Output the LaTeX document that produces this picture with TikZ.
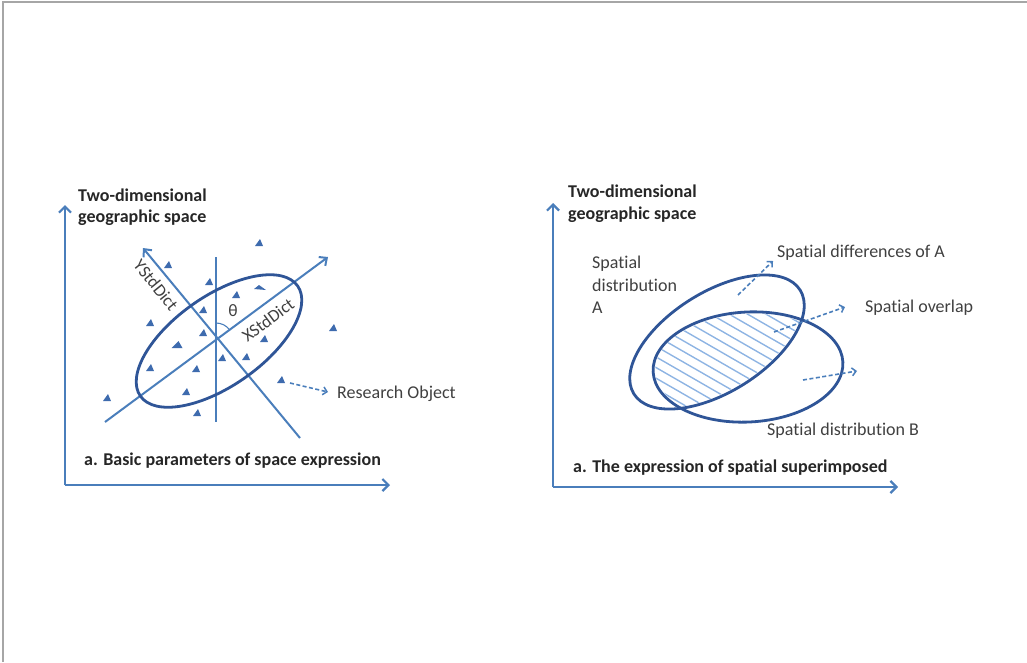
\documentclass[tikz,border=0pt]{standalone}
\usepackage{fontspec}
\setmainfont{Carlito}[Ligatures=NoCommon]
\usetikzlibrary{arrows.meta,calc}
\definecolor{axisblue}{HTML}{4A7EBB}
\definecolor{ellblue}{HTML}{2F5597}
\definecolor{hatchblue}{HTML}{8EB4E3}
\definecolor{tricol}{HTML}{3E6BAE}
\definecolor{txt}{HTML}{404040}
\definecolor{btxt}{HTML}{262626}
\definecolor{framegray}{HTML}{A6A6A6}
\begin{document}
\begin{tikzpicture}[x=1pt,y=-1pt,
  axis/.style={draw=axisblue, line width=2.4pt, -{Straight Barb[length=6pt,width=12pt,line width=2.2pt]}},
  ln/.style={draw=axisblue, line width=2pt},
  lnarrow/.style={ln, -{Straight Barb[length=6pt,width=11pt,line width=2pt]}},
  ell/.style={draw=ellblue, line width=2.8pt},
  dasharrow/.style={draw=axisblue, line width=1.6pt, dash pattern=on 4pt off 2.5pt, -{Straight Barb[length=4pt,width=8pt,line width=1.5pt]}},
  hatchline/.style={draw=hatchblue, line width=1.4pt},
  tri/.style={fill=tricol},
  lab/.style={font=\fontsize{18}{21}\selectfont, text=txt, inner sep=0pt, anchor=base west},
  blab/.style={font=\fontsize{18}{21}\selectfont\bfseries, text=btxt, inner sep=0pt, anchor=base west},
  rlab/.style={font=\fontsize{17.5}{21}\selectfont, text=txt, inner sep=0pt}
]
\useasboundingbox (0,0) rectangle (1027,662);
% frame
\coordinate (F1) at (3,662); \coordinate (F2) at (3,2); \coordinate (F3) at (1027,2);
\draw[framegray, line width=1.6pt] (F1) -- (F2) -- (F3);

% ===== left panel =====
\coordinate (LO) at (65,485); \coordinate (LY) at (65,205); \coordinate (LX) at (390,485);
\draw[axis] (LO) -- (LY);
\draw[axis] (LO) -- (LX);
\node[blab] (lt1) at (78,201) {Two-dimensional};
\node[blab] (lt2) at (78,222) {geographic space};
\node[blab] (lcap) at (84,465) {a. Basic parameters of space expression};

\coordinate (V1) at (216,257); \coordinate (V2) at (216,422);
\draw[ln] (V1) -- (V2);
\coordinate (N1) at (105,422); \coordinate (N2) at (328,257);
\draw[lnarrow] (N1) -- (N2);
\coordinate (W1) at (300,438); \coordinate (W2) at (143,248);
\draw[lnarrow] (W1) -- (W2);
\draw[ell, shift={(219,341)}, rotate=35] (0,0) ellipse [x radius=96, y radius=45];
\coordinate (TH) at (216,323);
\draw[draw=axisblue, line width=1.1pt] (TH) arc[start angle=-90, end angle=-38, radius=17];
\node[rlab] (theta) at (233,311) {θ};
\node[rlab, rotate=36.5] (xstd) at (268,320) {XStdDict};
\node[rlab, rotate=-51] (ystd) at (156,285) {YStdDict};

\foreach \px/\py in {259/243,168/265,209/282,236/295,203/310,150/323,203/333,
  333/328,264/339,222/358,246/357,150/368,196/369,186/392,107/398,281/380,197/413}{
  \fill[tri] (\px,\py) ++(-4,3) -- ++(8,0) -- ++(-3,-7) -- cycle;
}
\fill[tri] (260,287) ++(-6,2) -- ++(12,1) -- ++(-7,-5) -- cycle;
\fill[tri] (177,345) ++(-5.5,3) -- ++(11,0) -- ++(-4,-7) -- cycle;

\coordinate (R1) at (290,383); \coordinate (R2) at (328,392);
\draw[dasharrow] (R1) -- (R2);
\node[lab] (resobj) at (337,398) {Research Object};

% ===== right panel =====
\coordinate (RO) at (553,487); \coordinate (RY) at (553,203); \coordinate (RX) at (898,487);
\draw[axis] (RO) -- (RY);
\draw[axis] (RO) -- (RX);
\node[blab] (rt1) at (568,197) {Two-dimensional};
\node[blab] (rt2) at (568,219) {geographic space};
\node[blab] (rcap) at (573,472) {a. The expression of spatial superimposed};

\begin{scope}
  \clip[shift={(717,342)}, rotate=32] (0,0) ellipse [x radius=96, y radius=48];
  \clip[shift={(748,367)}, rotate=3] (0,0) ellipse [x radius=93, y radius=53];
  \foreach \i in {-12,...,12}{
    \draw[hatchline] ([shift={(-4.6*\i,7.97*\i)}]735,360) +(-130,-75) -- +(130,75);
  }
\end{scope}
\draw[ell, shift={(717,342)}, rotate=32] (0,0) ellipse [x radius=98, y radius=50];
\draw[ell, shift={(748,367)}, rotate=3] (0,0) ellipse [x radius=95, y radius=55];

\coordinate (D1) at (738,295); \coordinate (D2) at (773,261);
\draw[dasharrow] (D1) -- (D2);
\coordinate (O1) at (774,332); \coordinate (O2) at (845,307);
\draw[dasharrow] (O1) -- (O2);
\coordinate (B1) at (803,380); \coordinate (B2) at (857,371);
\draw[dasharrow] (B1) -- (B2);

\node[lab] (sdA) at (777,257) {Spatial differences of A};
\node[lab] (sov) at (865,312) {Spatial overlap};
\node[lab] (sdB) at (767,435) {Spatial distribution B};
\node[lab] (sa1) at (592,268) {Spatial};
\node[lab] (sa2) at (592,291) {distribution};
\node[lab] (sa3) at (592,313) {A};
\end{tikzpicture}
\end{document}
